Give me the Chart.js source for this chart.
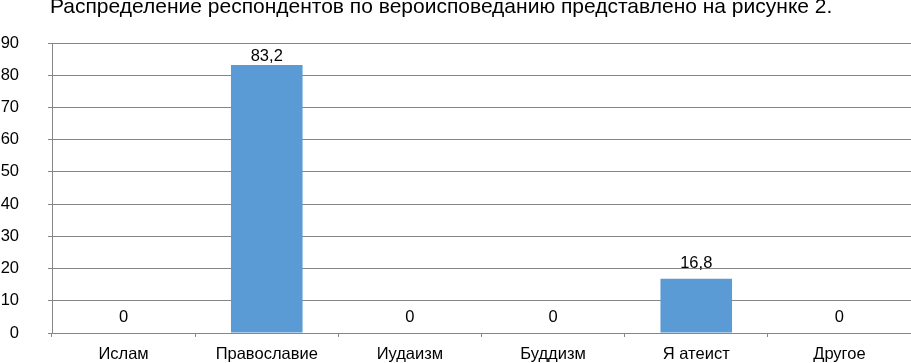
<!DOCTYPE html>
<html><head><meta charset="utf-8">
<script src="https://cdn.jsdelivr.net/npm/chart.js@4"></script>
<style>
html,body{margin:0;padding:0;background:#fff;overflow:hidden;}
#wrap{position:relative;width:911px;height:363px;}
#title{position:absolute;left:50px;top:-6px;font-family:"Liberation Sans",Arial,sans-serif;font-size:21px;color:#000;white-space:nowrap;}
canvas{position:absolute;left:0;top:0;}
</style></head>
<body>
<div id="wrap">
<canvas id="c" width="911" height="363"></canvas>
<div id="title">Распределение респондентов по вероисповеданию представлено на рисунке 2.</div>
</div>
<script>
const categories = ["Ислам","Православие","Иудаизм","Буддизм","Я атеист","Другое"];
const values = [0, 83.2, 0, 0, 16.8, 0];
const yTicks = [0,10,20,30,40,50,60,70,80,90];

const FONT = '"Liberation Sans", Arial, sans-serif';

const labelPlugin = {
  id:'lbl',
  afterDatasetsDraw(chart){
    const ctx = chart.ctx;
    const meta = chart.getDatasetMeta(0);
    ctx.save();
    ctx.font = '16.5px ' + FONT;
    ctx.fillStyle = '#000';
    ctx.textAlign = 'center';
    ctx.textBaseline = 'alphabetic';
    meta.data.forEach((bar,i)=>{
      const v = values[i];
      const txt = String(v).replace('.', ',');
      let base = bar.y - 11;
      base = Math.max(base, chart.chartArea.top + 18);
      ctx.fillText(txt, bar.x, base);
    });
    ctx.restore();
  }
};

new Chart(document.getElementById('c'), {
  type:'bar',
  data:{labels:categories, datasets:[{data:values, backgroundColor:'#5b9bd5', borderWidth:0, barPercentage:0.5, categoryPercentage:1.0}]},
  options:{
    responsive:false, animation:false,
    layout:{padding:{top:43,right:0,bottom:0,left:0}},
    plugins:{legend:{display:false}, tooltip:{enabled:false}},
    scales:{
      x:{
        afterFit(scale){ scale.height = 30; scale.paddingLeft = 0; scale.paddingRight = 0; },
        grid:{display:true, drawOnChartArea:false, drawTicks:true, tickLength:4, color:'#868686', offset:true},
        border:{display:true, color:'#868686', width:1},
        ticks:{color:'#000', font:{family:FONT, size:16.5}, padding:8, maxRotation:0}
      },
      y:{
        min:0, max:90,
        afterBuildTicks(scale){ scale.ticks = yTicks.map(v=>({value:v})); },
        afterFit(scale){ scale.width = 52; scale.paddingTop = 0; scale.paddingBottom = 0; },
        grid:{color:'#868686', tickLength:4, drawTicks:true},
        border:{display:true, color:'#868686', width:1},
        ticks:{color:'#000', font:{family:FONT, size:16.5}, padding:29}
      }
    }
  },
  plugins:[labelPlugin]
});
</script>
</body></html>
